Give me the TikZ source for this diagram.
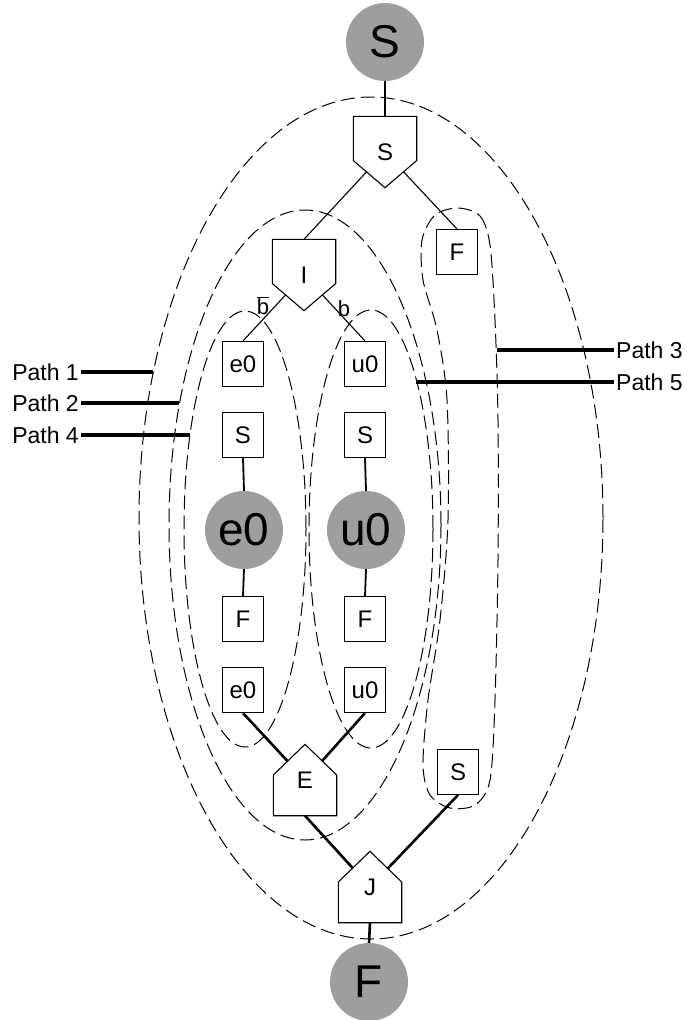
\documentclass[tikz,border=0pt]{standalone}
\usepackage{fontspec}
\setmainfont{Liberation Sans}
\usetikzlibrary{calc,backgrounds}

% pentagon outlines drawn round an invisible host node
\newcommand{\pentdown}[1]{%
  \draw[pent] (#1.north west) -- (#1.north east) -- ($(#1.north east)!0.62!(#1.south east)$)
    -- (#1.south) -- ($(#1.north west)!0.62!(#1.south west)$) -- cycle;}
\newcommand{\pentup}[1]{%
  \draw[pent] (#1.south west) -- (#1.south east) -- ($(#1.south east)!0.57!(#1.north east)$)
    -- (#1.north) -- ($(#1.south west)!0.57!(#1.north west)$) -- cycle;}

\begin{document}
\begin{tikzpicture}[x=1pt,y=-1pt,
  box/.style={rectangle, draw, line width=1.1pt, minimum width=41pt, minimum height=45pt, inner sep=0pt, font=\fontsize{24}{28}\selectfont},
  blob/.style={circle, fill=black!38, minimum size=78pt, inner sep=0pt, font=\fontsize{46}{52}\selectfont},
  penthost/.style={minimum width=63pt, minimum height=71pt, inner sep=0pt, font=\fontsize{24}{28}\selectfont},
  pent/.style={draw, fill=white, line width=1.1pt},
  wire/.style={line width=1.1pt},
  midwire/.style={line width=1.8pt},
  fatwire/.style={line width=2.6pt},
  dashloop/.style={dash pattern=on 14pt off 6pt, line width=1pt},
  pathbar/.style={line width=3.4pt},
  pathlbl/.style={inner sep=2pt, font=\fontsize{23}{27}\selectfont},
  branch/.style={inner sep=0pt, font=\fontsize{22}{26}\selectfont}
]
  \useasboundingbox (0,0) rectangle (687,1020);

  % start and end
  \node[blob] (topS) at (385,42) {S};
  \node[blob] (botF) at (369,982) {F};

  % split, if, end-if and join
  \node[penthost] (Sp) at (385,152) {S};
  \node[penthost] (If) at (304,275) {I};
  \node[penthost] (Ei) at (305,780) {E};
  \node[penthost] (Jn) at (370,887) {J};

  % right-hand branch
  \node[box] (Fr) at (457,252) {F};
  \node[box] (Sr) at (458,772) {S};

  % else column
  \node[box] (e0a) at (243,364) {e0};
  \node[box] (Sl) at (243,435) {S};
  \node[blob] (ce0) at (244,530) {e0};
  \node[box] (Fl) at (243,619) {F};
  \node[box] (e0b) at (243,690) {e0};

  % then column
  \node[box] (u0a) at (365,364) {u0};
  \node[box] (Sm) at (365,435) {S};
  \node[blob] (cu0) at (366,530) {u0};
  \node[box] (Fm) at (365,619) {F};
  \node[box] (u0b) at (365,690) {u0};

  \node[branch] (bbar) at (263,306) {$\overline{\mbox{b}}$};
  \node[branch] (bpos) at (344,309) {b};

  \begin{scope}[on background layer]
    \draw[wire] (topS.south) -- (Sp.north);
    \draw[wire] (Sp.center) -- (If.north);
    \draw[wire] (Sp.center) -- (Fr.north);
    \draw[wire] (If.center) -- (e0a.north);
    \draw[wire] (If.center) -- (u0a.north);
    \draw[midwire] (Sl.south) -- (ce0.north);
    \draw[midwire] (ce0.south) -- (Fl.north);
    \draw[midwire] (Sm.south) -- (cu0.north);
    \draw[midwire] (cu0.south) -- (Fm.north);
    \draw[fatwire] (e0b.south) -- (Ei.center);
    \draw[fatwire] (u0b.south) -- (Ei.center);
    \draw[fatwire] (Ei.south) -- (Jn.center);
    \draw[fatwire] (Sr.south) -- (Jn.center);
    \draw[fatwire] (Jn.south) -- (botF.north);
    \pentdown{Sp}
    \pentdown{If}
    \pentup{Ei}
    \pentup{Jn}
  \end{scope}

  % the five paths
  \draw[dashloop] (371,518) ellipse [x radius=232pt, y radius=421pt];
  \draw[dashloop] (305,525) ellipse [x radius=136pt, y radius=315pt];
  \draw[dashloop] (245,529) ellipse [x radius=61pt, y radius=218pt];
  \draw[dashloop] (371,529) ellipse [x radius=62pt, y radius=219pt];
  \draw[dashloop] plot[smooth cycle] coordinates {(458,208) (480,216) (490,245) (495,320)
    (498,420) (498,560) (495,700) (490,780) (475,805) (450,808) (430,795) (423,765)
    (428,700) (440,620) (448,520) (447,400) (437,330) (423,280) (422,240) (435,215)};

  \coordinate (p1end) at (153,372);
  \coordinate (p2end) at (179,403);
  \coordinate (p4end) at (190,435);
  \coordinate (p3end) at (497,350);
  \coordinate (p5end) at (416,382);

  \node[pathlbl, anchor=east] (p1) at (81,372) {Path 1};
  \node[pathlbl, anchor=east] (p2) at (81,403) {Path 2};
  \node[pathlbl, anchor=east] (p4) at (81,435) {Path 4};
  \node[pathlbl, anchor=west] (p3) at (614,350) {Path 3};
  \node[pathlbl, anchor=west] (p5) at (614,382) {Path 5};

  \draw[pathbar] (p1.east) -- (p1end);
  \draw[pathbar] (p2.east) -- (p2end);
  \draw[pathbar] (p4.east) -- (p4end);
  \draw[pathbar] (p3end) -- (p3.west);
  \draw[pathbar] (p5end) -- (p5.west);
\end{tikzpicture}
\end{document}
